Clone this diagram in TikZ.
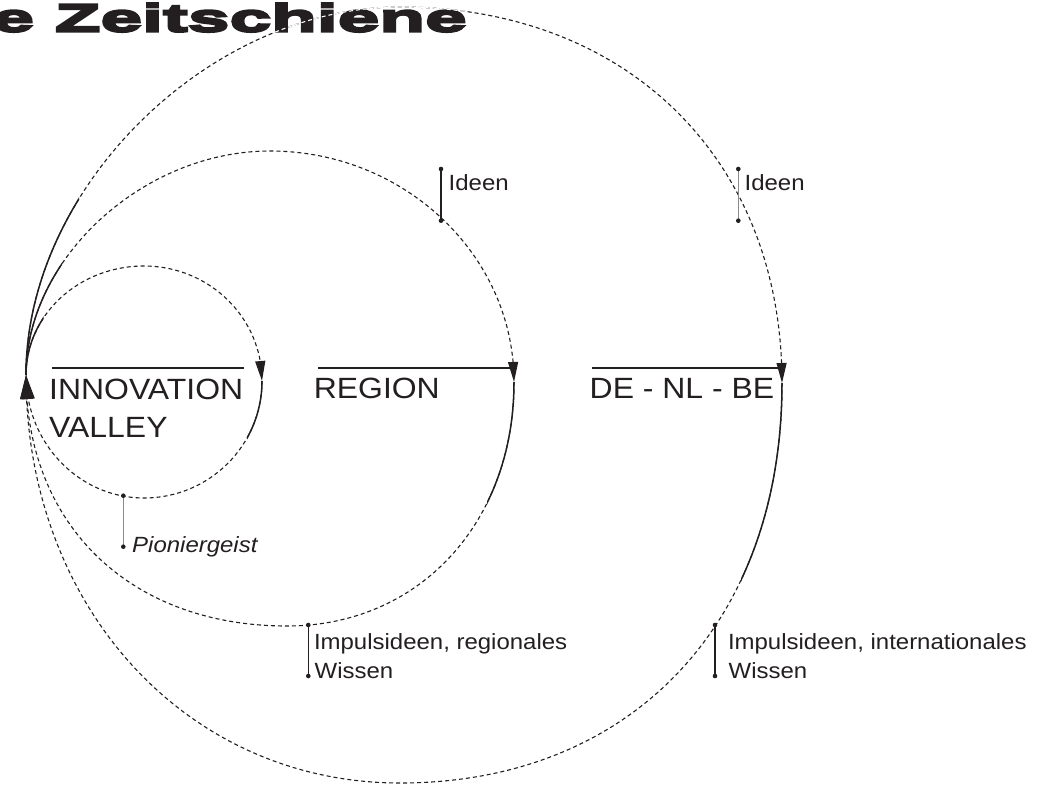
\documentclass[tikz,border=0pt]{standalone}
\usepackage{fontspec}
\setmainfont{Liberation Sans}[FakeStretch=1.09]
\newfontfamily\titlefont{Liberation Sans Bold}[FakeStretch=1.92, FakeBold=6]
\usetikzlibrary{arrows.meta,bending}
\definecolor{ink}{HTML}{231F20}
\definecolor{pingray}{HTML}{8A8A8A}
\begin{document}
\begin{tikzpicture}[x=1pt,y=-1pt,
  dashedline/.style={draw=ink, line width=1.1pt, dash pattern=on 4pt off 3pt},
  solidline/.style={draw=ink, line width=1.5pt},
  rarrow/.style={-{Triangle[length=20pt,width=10pt,flex]}},
  larrow/.style={-{Triangle[length=24pt,width=13pt]}},
  bigtext/.style={anchor=base west, inner sep=0pt, font=\fontsize{29.3}{35}\selectfont, text=ink},
  lbl/.style={anchor=base west, inner sep=0pt, font=\fontsize{22}{26}\selectfont, text=ink},
  bar/.style={draw=ink, line width=2.4pt},
  pin/.style={draw=ink, line width=1.2pt},
  pindot/.style={fill=ink}
]
\useasboundingbox (0,0) rectangle (1038,786);

% ---------- loop points
\coordinate (L) at (26,375);
\coordinate (sT) at (144,266); \coordinate (sR) at (262,381); \coordinate (sB) at (144,498);
\coordinate (mT) at (270,151); \coordinate (mR) at (514,382); \coordinate (mB) at (287,626);
\coordinate (bT) at (400,7);   \coordinate (bR) at (782,383); \coordinate (bB) at (400,783);

% ---------- small loop
\draw[dashedline, rarrow] (L) .. controls (26,314.8) and (78.8,266) .. (sT) .. controls (209.2,266) and (262,317.5) .. (sR);
\draw[dashedline, larrow] (sR) .. controls (262,445.6) and (209.2,498) .. (sB) .. controls (78.8,498) and (26,442.9) .. (L);
\begin{scope}
  \clip (0,0) rectangle (43.5,376);
  \draw[solidline] (L) .. controls (26,314.8) and (78.8,266) .. (sT);
\end{scope}
\begin{scope}
  \clip (247,381) rectangle (1038,786);
  \draw[solidline] (sR) .. controls (262,445.6) and (209.2,498) .. (sB);
\end{scope}

% ---------- middle loop
\draw[dashedline, rarrow] (L) .. controls (26,258.5) and (143.1,151) .. (mT) .. controls (404.2,151) and (514,255) .. (mR);
\draw[dashedline, larrow] (mR) .. controls (514,523.5) and (418.7,626) .. (mB) .. controls (130.4,626) and (26,525.6) .. (L);
\begin{scope}
  \clip (0,0) rectangle (62,376);
  \draw[solidline] (L) .. controls (26,258.5) and (143.1,151) .. (mT);
\end{scope}
\begin{scope}
  \clip (487,382) rectangle (1038,786);
  \draw[solidline] (mR) .. controls (514,523.5) and (418.7,626) .. (mB);
\end{scope}

% ---------- big loop
\draw[dashedline, rarrow] (L) .. controls (26,187.3) and (209.3,7) .. (bT) .. controls (627.3,7) and (782,159.3) .. (bR);
\draw[dashedline, larrow] (bR) .. controls (782,624.2) and (630.3,783) .. (bB) .. controls (186.8,783) and (26,607.6) .. (L);
\begin{scope}
  \clip (0,0) rectangle (79,376);
  \draw[solidline] (L) .. controls (26,187.3) and (209.3,7) .. (bT);
\end{scope}
\begin{scope}
  \clip (741,383) rectangle (1038,786);
  \draw[solidline] (bR) .. controls (782,624.2) and (630.3,783) .. (bB);
\end{scope}

% ---------- title (the loop shows light through its letters)
\node[anchor=base east, inner sep=0pt, font=\titlefont\fontsize{39}{42}\selectfont, text=ink] (title) at (467,31.5) {e Zeitschiene};
\begin{scope}
  \clip (title.south west) rectangle (title.north east);
  \draw[draw=white, line width=1.1pt, dash pattern=on 4pt off 3pt] (L) .. controls (26,187.3) and (209.3,7) .. (bT) .. controls (627.3,7) and (782,159.3) .. (bR);
\end{scope}

% ---------- big labels with bars
\node[bigtext] (innov) at (49,399.3) {INNOVATION};
\node[bigtext] (valley) at (49,437.3) {VALLEY};
\node[bigtext] (region) at (313.6,398.3) {REGION};
\node[bigtext] (denlbe) at (589.5,398.3) {DE - NL - BE};
\coordinate (b1a) at (52,368);  \coordinate (b1b) at (244,368);
\coordinate (b2a) at (318,368); \coordinate (b2b) at (510,368);
\coordinate (b3a) at (592,368); \coordinate (b3b) at (778,368);
\draw[bar] (b1a) -- (b1b);
\draw[bar] (b2a) -- (b2b);
\draw[bar] (b3a) -- (b3b);

% ---------- pins and small labels
\coordinate (p1a) at (123.3,495.7); \coordinate (p1b) at (123.3,546.7);
\coordinate (p2a) at (441,169);     \coordinate (p2b) at (441,220.7);
\coordinate (p3a) at (738.3,169);   \coordinate (p3b) at (738.3,220.7);
\coordinate (p4a) at (308.3,625);   \coordinate (p4b) at (308.3,676);
\coordinate (p5a) at (715,625);     \coordinate (p5b) at (715,676);
\draw[pin, draw=pingray] (p1a) -- (p1b);
\draw[pin] (p2a) -- (p2b);
\draw[pin, draw=pingray] (p3a) -- (p3b);
\draw[pin] (p4a) -- (p4b);
\draw[pin] (p5a) -- (p5b);
\foreach \p in {p1a,p1b,p2a,p2b,p3a,p3b,p4a,p4b,p5a,p5b}{\fill[pindot] (\p) circle (2.3pt);}

\node[lbl, font=\fontsize{22}{26}\selectfont\itshape] (pion) at (132,552.3) {Pioniergeist};
\node[lbl] (idm) at (448.5,190.7) {Ideen};
\node[lbl] (idb) at (744.4,190.7) {Ideen};
\node[lbl] (imr1) at (313.8,649.3) {Impulsideen, regionales};
\node[lbl] (imr2) at (314.5,678.3) {Wissen};
\node[lbl] (imi1) at (727.8,649.3) {Impulsideen, internationales};
\node[lbl] (imi2) at (728.5,678.3) {Wissen};
\end{tikzpicture}
\end{document}
